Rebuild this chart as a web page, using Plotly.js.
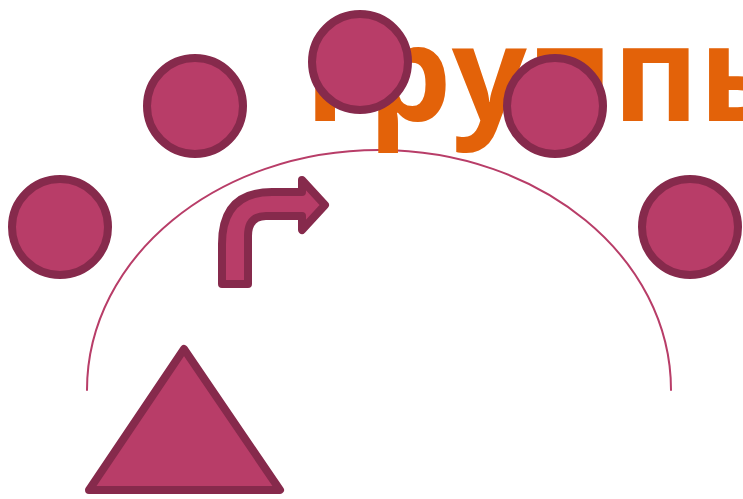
<!DOCTYPE html>
<html><head><meta charset="utf-8">
<script src="https://cdn.plot.ly/plotly-3.0.1.min.js"></script>
<style>
html,body{margin:0;padding:0;background:#fff;}
.shapelayer path{stroke-linejoin:round;stroke-linecap:round;}
</style>
</head><body>
<div id="chart" style="width:743px;height:499px;"></div>
<script>
// Diagram content
const titleText = ['группы'];
const titleX = [305];
const titleY = [88];
const nodeX = [60, 195, 360, 555, 690];
const nodeY = [227, 106, 62, 106, 227];

const fillCol = '#B83D68';
const lineCol = '#862A4C';
const orange = '#E36209';

const traces = [
  {
    type: 'scatter', mode: 'text', x: titleX, y: titleY, text: titleText,
    textposition: 'middle right',
    textfont: {family: 'Open Sans', size: 132, color: orange, weight: 700},
    hoverinfo: 'skip'
  },
  {
    type: 'scatter', mode: 'markers', x: nodeX, y: nodeY,
    marker: {symbol: 'circle', size: 96, color: fillCol, line: {color: lineCol, width: 8}},
    hoverinfo: 'skip'
  }
];

const shapes = [
  {type: 'path', layer: 'below', xref: 'x', yref: 'y',
   path: 'M 87,390 C 87,257.4 217.7,150 379,150 C 540.3,150 671,257.4 671,390',
   line: {color: fillCol, width: 2}},
  {type: 'path', layer: 'above', xref: 'x', yref: 'y',
   path: 'M 222,284 L 222,244 Q 222,192 272,192 L 302,192 L 302,180 L 325,205 L 302,230 L 302,216 L 266,216 Q 248,216 248,236 L 248,284 Z',
   fillcolor: fillCol, line: {color: lineCol, width: 8}},
  {type: 'path', layer: 'above', xref: 'x', yref: 'y',
   path: 'M 184,349 L 280,490 L 89,490 Z',
   fillcolor: fillCol, line: {color: lineCol, width: 8}}
];

const layout = {
  width: 743, height: 499,
  margin: {l: 0, r: 0, t: 0, b: 0},
  paper_bgcolor: '#fff', plot_bgcolor: '#fff',
  showlegend: false,
  xaxis: {range: [0, 743], visible: false, fixedrange: true},
  yaxis: {range: [499, 0], visible: false, fixedrange: true},
  shapes: shapes
};

Plotly.newPlot('chart', traces, layout, {displayModeBar: false, staticPlot: true});
</script>
</body></html>
